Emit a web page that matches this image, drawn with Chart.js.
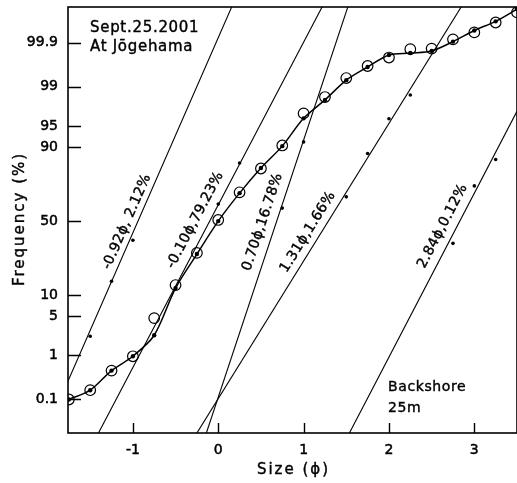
<!DOCTYPE html>
<html>
<head>
<meta charset="utf-8">
<script src="https://cdn.jsdelivr.net/npm/chart.js@4"></script>
<style>
  html, body { margin: 0; padding: 0; background: #fff; }
  #wrap { width: 517px; height: 483px; }
</style>
</head>
<body>
<div id="wrap"><canvas id="freqChart" width="517" height="483"></canvas></div>
<script>
// grain size classes (phi) and cumulative frequency (%)
const sizePhi = [-1.75, -1.5, -1.25, -1.0, -0.75, -0.5, -0.25, 0, 0.25, 0.5, 0.75, 1.0,
                 1.25, 1.5, 1.75, 2.0, 2.25, 2.5, 2.75, 3.0, 3.25, 3.5];
const measuredPct = [0.1, 0.17, 0.48, 0.96, 4.65, 13.4, 29.1, 50.8, 69.1, 81.9, 90.5, 96.9,
                     98.42, 99.34, 99.64, 99.77, 99.855, 99.86, 99.918, 99.946, 99.971, 99.985];
const fittedPct = [0.1, 0.17, 0.48, 0.96, 2.4, 12.3, 28.4, 50, 68.6, 82.1, 90.3, 96.25,
                   98.21, 99.27, 99.62, 99.8, 99.82, 99.84, 99.906, 99.952, 99.973, 99.988];

// normal components: mean phi, weight
const compLabels = ['-0.92ϕ, 2.12%', '-0.10ϕ,79.23%', '0.70ϕ,16.78%', '1.31ϕ,1.66%', '2.84ϕ,0.12%'];
// each component line runs between these phi values at 0.01% and 99.99%
const compEndPct = [0.01, 99.99];
const compEndPhi = [[-2.04, 0.16], [-1.42, 1.22], [-0.15, 1.52], [-0.27, 2.85], [1.52, 4.14]];
const compDotPhi = [[-1.5, -1.25, -1.0], [0, 0.25], [0.75, 1.0], [1.5, 1.75, 2.0, 2.25], [2.75, 3.0, 3.25]];
const compDotPct = [[2.3, 14.9, 37], [61.6, 84.3], [58.9, 91.5], [66.3, 87.9, 96.2, 98.55], [35, 72.9, 85.7]];
const compLabelPhi = [-1.07, -0.27, 0.52, 1.05, 2.63];
const compLabelPct = [49.5, 50.7, 49.3, 42.5, 46.5];

const yTickPct = [0.1, 1, 5, 10, 50, 90, 95, 99, 99.9];
const yTickLabels = ['0.1', '1', '5', '10', '50', '90', '95', '99', '99.9'];
const xTicks = [-1, 0, 1, 2, 3];
const xRange = [-1.76, 3.5];
const yRangePct = [0.0121, 99.9896];

// inverse normal CDF (Acklam), percent in -> z out
function probit(pct) {
    const q = pct / 100;
    const a = [-3.969683028665376e+01, 2.209460984245205e+02, -2.759285104469687e+02, 1.383577518672690e+02, -3.066479806614716e+01, 2.506628277459239e+00];
    const b = [-5.447609879822406e+01, 1.615858368580409e+02, -1.556989798598866e+02, 6.680131188771972e+01, -1.328068155288572e+01];
    const c = [-7.784894002430293e-03, -3.223964580411365e-01, -2.400758277161838e+00, -2.549732539343734e+00, 4.374664141464968e+00, 2.938163982698783e+00];
    const d = [7.784695709041462e-03, 3.224671290700398e-01, 2.445134137142996e+00, 3.754408661907416e+00];
    const tail = r => (((((c[0]*r + c[1])*r + c[2])*r + c[3])*r + c[4])*r + c[5]) / ((((d[0]*r + d[1])*r + d[2])*r + d[3])*r + 1);
    if (q < 0.02425) return tail(Math.sqrt(-2 * Math.log(q)));
    if (q > 1 - 0.02425) return -tail(Math.sqrt(-2 * Math.log(1 - q)));
    const r = q - 0.5, s = r * r;
    return (((((a[0]*s + a[1])*s + a[2])*s + a[3])*s + a[4])*s + a[5]) * r /
           (((((b[0]*s + b[1])*s + b[2])*s + b[3])*s + b[4])*s + 1);
}

const pts = (xs, ps) => xs.map((x, i) => ({ x: x, y: probit(ps[i]) }));

const datasets = [];

// measured values, open circles
datasets.push({
    data: pts(sizePhi, measuredPct),
    showLine: false,
    pointRadius: 5.3,
    pointBorderWidth: 1.2,
    pointBorderColor: '#000',
    pointBackgroundColor: 'rgba(0,0,0,0)'
});

// fitted sum of components, smooth line with dots
datasets.push({
    data: pts(sizePhi, fittedPct),
    showLine: true,
    borderColor: '#000',
    borderWidth: 1.5,
    tension: 0.3,
    pointRadius: 2.2,
    pointBorderWidth: 0,
    pointBackgroundColor: '#000'
});

// component lines + their dots
compEndPhi.forEach((ends, i) => {
    datasets.push({
        data: pts(ends, compEndPct),
        showLine: true,
        borderColor: '#000',
        borderWidth: 1.1,
        pointRadius: 0
    });
    datasets.push({
        data: pts(compDotPhi[i], compDotPct[i]),
        showLine: false,
        pointRadius: 1.8,
        pointBorderWidth: 0,
        pointBackgroundColor: '#000'
    });
});

// text with a thin outline so it reads a bit heavier
function inkText(ctx, txt, x, y) {
    ctx.fillText(txt, x, y);
    ctx.strokeText(txt, x, y);
}

// frame, inward ticks, axis titles and text notes
const paperPlugin = {
    id: 'paper',
    afterDraw(chart) {
        const { ctx, chartArea: a, scales: { x, y } } = chart;
        ctx.save();
        ctx.strokeStyle = '#000';
        ctx.lineWidth = 1.6;
        ctx.strokeRect(a.left, a.top, a.right - a.left, a.bottom - a.top);

        ctx.lineWidth = 1.4;
        ctx.beginPath();
        yTickPct.forEach(p => {
            const py = Math.round(y.getPixelForValue(probit(p))) + 0.5;
            ctx.moveTo(a.left, py);
            ctx.lineTo(a.left + 13, py);
        });
        xTicks.forEach(v => {
            const px = Math.round(x.getPixelForValue(v)) + 0.5;
            ctx.moveTo(px, a.bottom);
            ctx.lineTo(px, a.bottom - 10);
        });
        ctx.stroke();

        ctx.fillStyle = '#000';
        ctx.lineWidth = 0.4;
        ctx.font = '14px "DejaVu Sans"';
        ctx.textBaseline = 'middle';

        // labels along the component lines
        ctx.textAlign = 'center';
        ctx.letterSpacing = '0.3px';
        compLabels.forEach((txt, i) => {
            const x0 = x.getPixelForValue(compEndPhi[i][0]), y0 = y.getPixelForValue(probit(compEndPct[0]));
            const x1 = x.getPixelForValue(compEndPhi[i][1]), y1 = y.getPixelForValue(probit(compEndPct[1]));
            const cx = x.getPixelForValue(compLabelPhi[i]);
            const cy = y.getPixelForValue(probit(compLabelPct[i]));
            ctx.save();
            ctx.translate(cx, cy);
            ctx.rotate(Math.atan2(y1 - y0, x1 - x0));
            inkText(ctx, txt, 0, 0);
            ctx.restore();
        });

        // axis titles
        ctx.font = '15px "DejaVu Sans"';
        ctx.letterSpacing = '2px';
        inkText(ctx, 'Size (ϕ)', (a.left + a.right) / 2 + 1, 470);
        ctx.save();
        ctx.translate(20, (a.top + a.bottom) / 2);
        ctx.rotate(-Math.PI / 2);
        inkText(ctx, 'Frequency (%)', 1, 0);
        ctx.restore();

        ctx.textAlign = 'left';
        ctx.letterSpacing = '0.7px';
        inkText(ctx, 'Sept.25.2001', a.left + 22, a.top + 21);
        inkText(ctx, 'At Jōgehama', a.left + 22, a.top + 40);
        ctx.font = '14px "DejaVu Sans"';
        ctx.letterSpacing = '0.6px';
        inkText(ctx, 'Backshore', a.left + 320, a.top + 380);
        inkText(ctx, '25m', a.left + 320, a.top + 401);
        ctx.restore();
    }
};

Chart.defaults.font.family = '"DejaVu Sans"';
Chart.defaults.color = '#000';

new Chart(document.getElementById('freqChart'), {
    type: 'scatter',
    data: { datasets: datasets },
    options: {
        responsive: false,
        animation: false,
        layout: { autoPadding: false, padding: { top: 7, right: 0, left: 0, bottom: 0 } },
        plugins: {
            legend: { display: false },
            tooltip: { enabled: false }
        },
        scales: {
            x: {
                type: 'linear',
                min: xRange[0],
                max: xRange[1],
                afterBuildTicks: s => { s.ticks = xTicks.map(v => ({ value: v })); },
                afterFit: s => { s.height = 50; s.paddingLeft = 0; s.paddingRight = 0; },
                grid: { display: false, drawTicks: false },
                border: { display: false },
                ticks: {
                    autoSkip: false,
                    maxRotation: 0,
                    padding: 9,
                    font: { size: 14 },
                    textStrokeColor: '#000',
                    textStrokeWidth: 0.5,
                    callback: v => String(v)
                }
            },
            y: {
                type: 'linear',
                min: probit(yRangePct[0]),
                max: probit(yRangePct[1]),
                afterBuildTicks: s => { s.ticks = yTickPct.map(p => ({ value: probit(p) })); },
                afterFit: s => { s.width = 68; s.paddingTop = 0; s.paddingBottom = 0; },
                grid: { display: false, drawTicks: false },
                border: { display: false },
                ticks: {
                    autoSkip: false,
                    padding: 10,
                    font: { size: 14 },
                    textStrokeColor: '#000',
                    textStrokeWidth: 0.5,
                    callback: (v, i) => yTickLabels[i]
                }
            }
        }
    },
    plugins: [paperPlugin]
});
</script>
</body>
</html>
